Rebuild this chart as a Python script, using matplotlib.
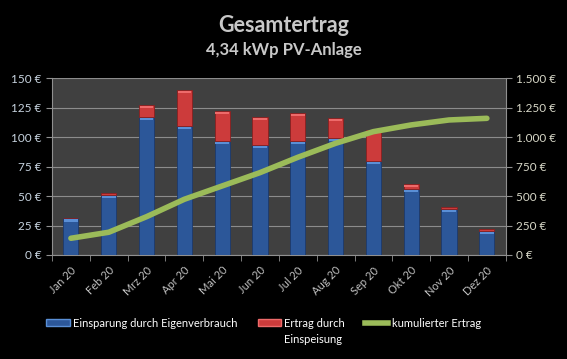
import numpy as np
import matplotlib.pyplot as plt
from matplotlib.patches import Patch
from matplotlib.lines import Line2D

plt.rcParams['font.family'] = ['Lato', 'DejaVu Sans']

# Daten
monate = ['Jan 20', 'Feb 20', 'Mrz 20', 'Apr 20', 'Mai 20', 'Jun 20',
          'Jul 20', 'Aug 20', 'Sep 20', 'Okt 20', 'Nov 20', 'Dez 20']
eigenverbrauch = [31, 51, 117, 109.5, 97, 93, 96.5, 99, 79.5, 55.7, 39.3, 20.6]
einspeisung = [0.3, 1.5, 10, 30.5, 25, 24, 24, 17.5, 26.5, 4.3, 1.4, 1.2]
kumuliert = [142, 193, 325, 473, 586, 699, 829, 948, 1047, 1104, 1146, 1160]

links_ticks = [0, 25, 50, 75, 100, 125, 150]
rechts_ticks = [0, 250, 500, 750, 1000, 1250, 1500]

fig = plt.figure(figsize=(5.67, 3.59), dpi=100, facecolor='black')
ax = fig.add_axes([0.0917, 0.2897, 0.8003, 0.4923])
ax.set_facecolor('#404040')

x = np.arange(len(monate))
ev = np.array(eigenverbrauch)
es = np.array(einspeisung)
ax.bar(x, ev, width=0.4, color='#2c5799', edgecolor='#1c3a6c', linewidth=0.6, zorder=3)
ax.bar(x, es, width=0.4, bottom=ev, color='#cc3b3b',
       edgecolor='#8a2020', linewidth=0.6, zorder=3)
# helle Kappen oben wie im Original
ax.bar(x, 1.8, width=0.36, bottom=ev - 2.6, color='#5a8fd6', linewidth=0, zorder=4)
kappe_rot = ['#ee6a6a' if e > 3 else 'none' for e in einspeisung]
ax.bar(x, 1.8, width=0.36, bottom=ev + es - 2.6, color=kappe_rot, linewidth=0, zorder=4)

ax.set_xlim(-0.5, len(monate) - 0.5)
ax.set_ylim(0, 150)
ax.set_yticks(links_ticks)
ax.set_yticklabels([f'{v} €' for v in links_ticks])
ax.set_xticks(x)
ax.set_xticklabels(monate, rotation=45, ha='right', rotation_mode='anchor')
ax.set_xticks(np.arange(-0.5, len(monate)), minor=True)
ax.tick_params(axis='x', which='major', length=0, colors='#c0c0c0', labelsize=8, pad=7)
ax.tick_params(axis='x', which='minor', length=4, color='#909090')
ax.tick_params(axis='y', length=4, color='#909090', labelcolor='#c8d4e0', labelsize=8.5)
ax.grid(axis='y', color='#8c8c8c', linewidth=0.8, zorder=1)
for s in ['top', 'right']:
    ax.spines[s].set_visible(False)
for s in ['left', 'bottom']:
    ax.spines[s].set_color('#909090')

ax2 = ax.twinx()
ax2.plot(x, kumuliert, color='#9bbb59', linewidth=4, solid_capstyle='round', zorder=5)
ax2.set_ylim(0, 1500)
ax2.set_yticks(rechts_ticks)
ax2.set_yticklabels([f'{v:,} €'.replace(',', '.') for v in rechts_ticks])
ax2.tick_params(axis='y', length=4, color='#909090', labelcolor='#d8d8c8', labelsize=8.5)
for s in ['top', 'left', 'bottom']:
    ax2.spines[s].set_visible(False)
ax2.spines['right'].set_color('#909090')

fig.text(0.5, 0.93, 'Gesamtertrag', ha='center', va='center', color='#c8c8c8',
         fontsize=15.5, fontweight='bold')
fig.text(0.5, 0.862, '4,34 kWp PV-Anlage', ha='center', va='center', color='#c8c8c8',
         fontsize=12, fontweight='bold')

handles = [Patch(facecolor='#2c5799', edgecolor='#5a8fd6'),
           Patch(facecolor='#cc3b3b', edgecolor='#ee6a6a'),
           Line2D([0], [0], color='#9bbb59', linewidth=4)]
labels = ['Einsparung durch Eigenverbrauch', 'Ertrag durch', 'kumulierter Ertrag']
leg = fig.legend(handles, labels, loc='center', bbox_to_anchor=(0.465, 0.1), ncol=3,
                 frameon=False, fontsize=8, labelcolor='white', handlelength=2.1,
                 handleheight=0.55, handletextpad=0.3, columnspacing=1.8)

# zweite Zeile der roten Legende
fig.canvas.draw()
bb = leg.get_texts()[1].get_window_extent().transformed(fig.transFigure.inverted())
fig.text(bb.x0, bb.y0 - 0.045, 'Einspeisung', ha='left', va='bottom',
         color='white', fontsize=8)

fig.savefig('out.png', dpi=100, facecolor='black')
